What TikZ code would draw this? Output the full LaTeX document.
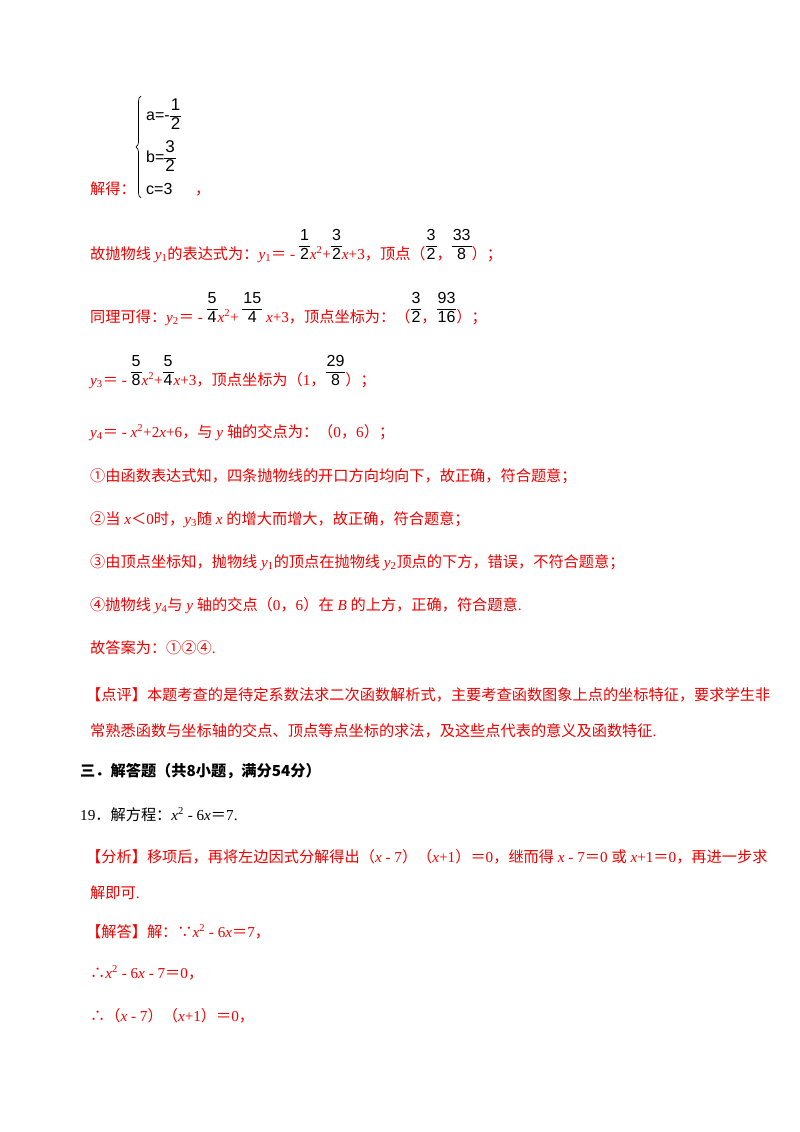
\documentclass[tikz,border=0pt]{standalone}
\usepackage{fontspec}
\setmainfont{Liberation Serif}
\newfontfamily\cjk{Noto Sans CJK SC}
\newfontfamily\arl{Liberation Sans}
\usetikzlibrary{decorations.pathreplacing}
\definecolor{rd}{HTML}{F00000}
\newcommand\Z[1]{{\cjk #1}}
\newcommand\V[1]{\textit{#1}}
\newcommand\fr[2]{{\color{black}\arl\fontsize{16}{18}\selectfont\setlength{\tabcolsep}{1pt}\renewcommand\arraystretch{1.0}\begin{tabular}[b]{c}#1\\\hline #2\end{tabular}}}
\newcommand\sfr[2]{\setlength{\tabcolsep}{1pt}\renewcommand\arraystretch{0.95}$\vcenter{\hbox{\arl\fontsize{17}{19}\selectfont\begin{tabular}{c}#1\\\hline #2\end{tabular}}}$}
\newcommand\SY[1]{{\arl\fontsize{16}{18}\selectfont #1}}
\tikzset{ln/.style={anchor=base west,inner sep=0,text=rd,font=\fontsize{15.2}{18}\selectfont},
bk/.style={ln,text=black}}
\begin{document}
\begin{tikzpicture}[x=1pt,y=-1pt]
\useasboundingbox (0,0) rectangle (800,1132);
% system
\draw[decorate,decoration={brace,amplitude=5pt},line width=0.7pt] (141,198)--(141,96);
\node[bk] (sa) at (146,120) {\SY{a=-}\sfr{1}{2}};
\node[bk] (sb) at (146,162) {\SY{b=}\sfr{3}{2}};
\node[bk] (sc) at (146,194) {\SY{c=3}};
\node[ln] (l1) at (90,194) {\Z{解得：}};
\node[ln] (l1b) at (195,194) {\Z{，}};
\node[ln] (l2) at (90,259) {\Z{故抛物线} \V{y}\textsubscript{1}\Z{的表达式为：}\V{y}\textsubscript{1}\Z{＝} - \fr{1}{2}\V{x}\textsuperscript{2}+\fr{3}{2}\V{x}+3\Z{，顶点（}\fr{3}{2}\Z{，}\fr{33}{8}\Z{）；}};
\node[ln] (l3) at (90,322) {\Z{同理可得：}\V{y}\textsubscript{2}\Z{＝} - \fr{5}{4}\V{x}\textsuperscript{2}+ \fr{15}{4} \V{x}+3\Z{，顶点坐标为：（}\fr{3}{2}\Z{，}\fr{93}{16}\Z{）；}};
\node[ln] (l4) at (90,385) {\V{y}\textsubscript{3}\Z{＝} - \fr{5}{8}\V{x}\textsuperscript{2}+\fr{5}{4}\V{x}+3\Z{，顶点坐标为（}1\Z{，}\fr{29}{8}\Z{）；}};
\node[ln] (l5) at (90,437) {\V{y}\textsubscript{4}\Z{＝} - \V{x}\textsuperscript{2}+2\V{x}+6\Z{，与} \V{y} \Z{轴的交点为：（}0\Z{，}6\Z{）；}};
\node[ln] (l6) at (90,481) {\Z{①由函数表达式知，四条抛物线的开口方向均向下，故正确，符合题意；}};
\node[ln] (l7) at (90,524) {\Z{②当} \V{x}\Z{＜}0\Z{时，}\V{y}\textsubscript{3}\Z{随} \V{x} \Z{的增大而增大，故正确，符合题意；}};
\node[ln] (l8) at (90,567) {\Z{③由顶点坐标知，抛物线} \V{y}\textsubscript{1}\Z{的顶点在抛物线} \V{y}\textsubscript{2}\Z{顶点的下方，错误，不符合题意；}};
\node[ln] (l9) at (90,610) {\Z{④抛物线} \V{y}\textsubscript{4}\Z{与} \V{y} \Z{轴的交点（}0\Z{，}6\Z{）在} \V{B} \Z{的上方，正确，符合题意}.};
\node[ln] (l10) at (90,653) {\Z{故答案为：①②④}.};
\node[ln] (l11) at (86,700) {\Z{【点评】本题考查的是待定系数法求二次函数解析式，主要考查函数图象上点的坐标特征，要求学生非}};
\node[ln] (l12) at (90,736) {\Z{常熟悉函数与坐标轴的交点、顶点等点坐标的求法，及这些点代表的意义及函数特征}.};
\node[bk] (l13) at (80,776) {\cjk\bfseries 三．解答题（共8小题，满分54分）};
\node[bk] (l14) at (80,820) {19\Z{．解方程：}\V{x}\textsuperscript{2} - 6\V{x}\Z{＝}7.};
\node[ln] (l15) at (86,862) {\Z{【分析】移项后，再将左边因式分解得出（}\V{x} - 7\Z{）（}\V{x}+1\Z{）＝}0\Z{，继而得} \V{x} - 7\Z{＝}0 \Z{或} \V{x}+1\Z{＝}0\Z{，再进一步求}};
\node[ln] (l16) at (90,898) {\Z{解即可}.};
\node[ln] (l17) at (86,937) {\Z{【解答】解：∵}\V{x}\textsuperscript{2} - 6\V{x}\Z{＝}7\Z{，}};
\node[ln] (l18) at (90,978) {\Z{∴}\V{x}\textsuperscript{2} - 6\V{x} - 7\Z{＝}0\Z{，}};
\node[ln] (l19) at (90,1021) {\Z{∴（}\V{x} - 7\Z{）（}\V{x}+1\Z{）＝}0\Z{，}};
\end{tikzpicture}
\end{document}
